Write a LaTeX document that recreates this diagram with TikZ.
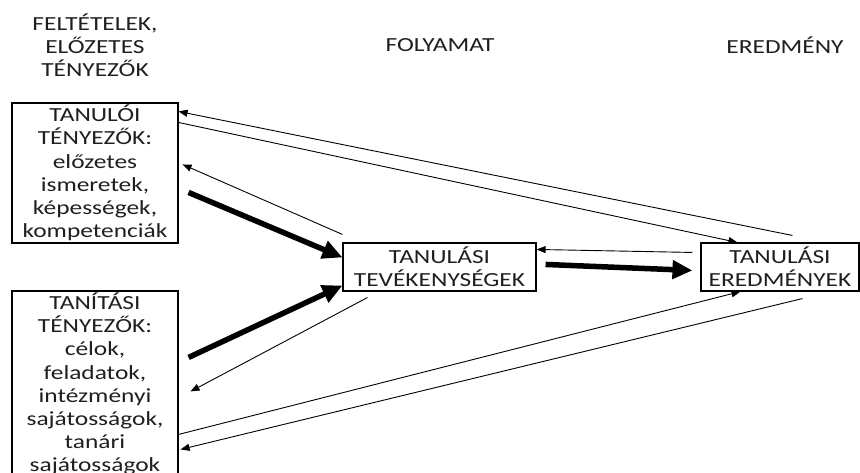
\documentclass[tikz,border=0pt]{standalone}
\usepackage{fontspec}
\setmainfont{Carlito}[FakeStretch=1.27]
\usetikzlibrary{arrows.meta}

\tikzset{
  txt/.style={font=\fontsize{20}{23.2}\selectfont, text=black!88, align=center, inner sep=0pt},
  box/.style={txt, draw=black, line width=1.1pt, minimum width=#1},
  thin/.style={draw=black, line width=0.9pt, -{Triangle[length=9pt,width=7pt]}},
  thick/.style={draw=black, line width=5.5pt, -{Triangle[length=20pt,width=18pt]}},
}

\begin{document}
\begin{tikzpicture}[x=1pt, y=-1pt]
  \clip (0,0) rectangle (860,473);

  % column headings
  \node[txt] (hcond) at (95,45) {FELTÉTELEK,\\ELŐZETES\\TÉNYEZŐK};
  \node[txt] (hproc) at (440,45) {FOLYAMAT};
  \node[txt] (hres)  at (785,45) {EREDMÉNY};

  % boxes
  \node[box=166pt, minimum height=140pt] (b1) at (95,173)
    {TANULÓI\\TÉNYEZŐK:\\előzetes\\ismeretek,\\képességek,\\kompetenciák};
  \node[box=166pt, minimum height=186pt] (b2) at (95,384)
    {TANÍTÁSI\\TÉNYEZŐK:\\célok,\\feladatok,\\intézményi\\sajátosságok,\\tanári\\sajátosságok};
  \node[box=193pt, minimum height=48pt] (b3) at (439.5,267)
    {TANULÁSI\\TEVÉKENYSÉGEK};
  \node[box=158pt, minimum height=48pt] (b4) at (780,267)
    {TANULÁSI\\EREDMÉNYEK};

  % feedback and influence links
  \draw[thin] ([xshift=92pt,yshift=7pt]b4.north west) -- ([yshift=-9pt]b1.north east);
  \draw[thin] ([yshift=-20pt]b1.north east) -- ([xshift=37pt]b4.north west);
  \draw[thin] ([yshift=8pt]b3.north west) -- ([xshift=4pt,yshift=-62pt]b1.north east);
  \draw[thin] ([xshift=25pt,yshift=-6pt]b3.south west) -- ([xshift=12pt,yshift=-101pt]b2.north east);
  \draw[thin] ([yshift=-144pt]b2.north east) -- ([xshift=40pt]b4.south west);
  \draw[thin] ([xshift=102pt,yshift=-7pt]b4.south west) -- ([xshift=2pt,yshift=-159pt]b2.north east);
  \draw[thin] ([xshift=-8pt,yshift=-10pt]b4.north west) -- ([yshift=-7pt]b3.north east);

  % main flow
  \draw[thick] ([xshift=10pt,yshift=-90pt]b1.north east) -- ([yshift=-15pt]b3.north west);
  \draw[thick] ([xshift=10pt,yshift=-67pt]b2.north east) -- ([yshift=6pt]b3.south west);
  \draw[thick] ([xshift=9pt,yshift=-22pt]b3.north east) -- ([xshift=-8pt,yshift=-28pt]b4.north west);
\end{tikzpicture}
\end{document}
